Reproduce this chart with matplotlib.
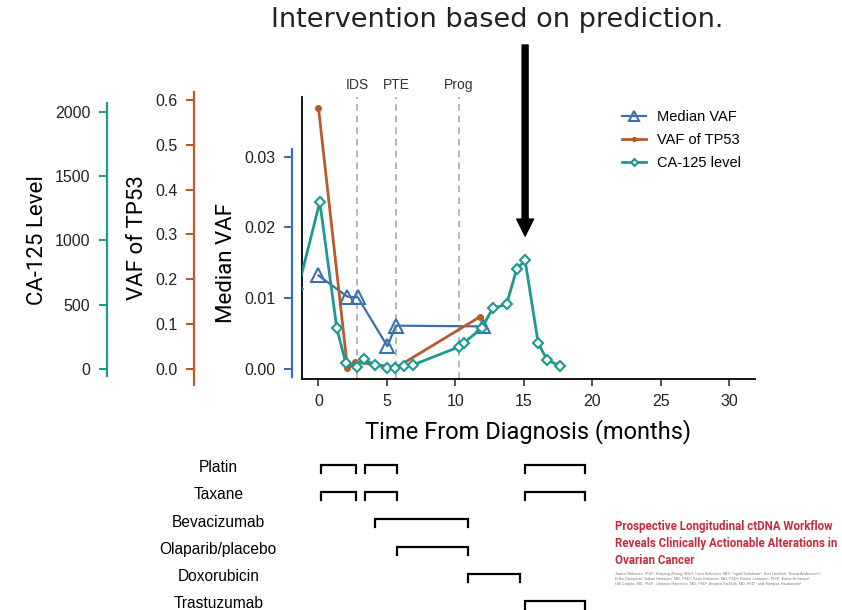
import matplotlib.pyplot as plt

plt.rcParams['font.family'] = ['Liberation Sans', 'DejaVu Sans']
NARROW = ['Roboto', 'DejaVu Sans']

# Median VAF (blue triangles)
med_t = [0.0, 2.12, 2.88, 5.04, 5.65, 12.0]
med_vaf = [0.0132, 0.0102, 0.0101, 0.0032, 0.0061, 0.0060]

# VAF of TP53 (orange dots)
tp53_t = [0.0, 2.12, 2.7, 5.7, 11.8]
tp53_vaf = [0.583, 0.002, 0.015, 0.003, 0.116]

# CA-125 level (teal diamonds)
ca_t = [-1.5, 0.1, 1.34, 2.0, 2.8, 3.33, 4.14, 5.0, 5.6, 6.27, 6.9,
        10.3, 10.63, 11.93, 12.73, 13.75, 14.48, 15.1, 16.05, 16.7, 17.65]
ca_level = [620, 1300, 315, 43, 16, 74, 30, 9, 9, 22, 30,
            172, 203, 315, 471, 502, 776, 845, 203, 69, 24]

# clinical events
events = ['IDS', 'PTE', 'Prog']
event_t = [2.82, 5.7, 10.27]

# treatment periods (months)
drugs = ['Platin', 'Taxane', 'Bevacizumab', 'Olaparib/placebo', 'Doxorubicin', 'Trastuzumab']
drug_periods = [
    [(0.2, 2.75), (3.4, 5.75), (15.1, 19.5)],
    [(0.2, 2.75), (3.4, 5.75), (15.1, 19.5)],
    [(4.1, 10.9)],
    [(5.75, 10.9)],
    [(10.9, 14.7)],
    [(15.1, 19.5)],
]

blue = '#3d6fae'
orange = '#b85a2a'
teal = '#1c9a91'

fig = plt.figure(figsize=(8.42, 6.10), dpi=100, facecolor='white')

# main panel
ax = fig.add_axes([0.3587, 0.3787, 0.538, 0.4623])
ax.set_xlim(-1.2, 31.9)
ax.set_ylim(-0.00144, 0.03844)
ax.set_yticks([])
ax.set_xticks(range(0, 31, 5))
ax.tick_params(axis='x', length=5, width=1.3, colors='#444444', labelcolor='#222222',
               labelsize=11.5, pad=6)
ax.set_xlabel('Time From Diagnosis (months)', fontsize=17, family=NARROW, labelpad=7)
ax.spines['top'].set_visible(False)
ax.spines['right'].set_visible(False)
ax.spines['left'].set_linewidth(1.3)
ax.spines['bottom'].set_linewidth(1.3)

for name, t in zip(events, event_t):
    ax.axvline(t, color='#aaaaaa', linestyle=(0, (4, 3)), linewidth=1.2, zorder=1)
    ax.text(t, 1.043, name, transform=ax.get_xaxis_transform(), ha='center', va='center',
            fontsize=10, color='#333333')


def add_scale(color, ylim, bounds, outward_px, ticks, fmt, label, label_y):
    tw = ax.twinx()
    tw.set_ylim(*ylim)
    for s in ['top', 'right', 'bottom']:
        tw.spines[s].set_visible(False)
    sp = tw.spines['left']
    sp.set_visible(True)
    sp.set_position(('outward', outward_px * 0.72))
    sp.set_bounds(*bounds)
    sp.set_color(color)
    sp.set_linewidth(1.6)
    tw.yaxis.set_ticks_position('left')
    tw.yaxis.set_label_position('left')
    tw.set_yticks(ticks)
    tw.set_yticklabels([fmt.format(v) for v in ticks])
    tw.tick_params(axis='y', colors=color, labelcolor='#222222', length=6, width=1.5,
                   labelsize=11.5, pad=6)
    tw.set_ylabel(label, fontsize=16, family=NARROW, y=label_y, labelpad=5)
    return tw


ax_med = add_scale(blue, (-0.00144, 0.03844), (-0.0011, 0.0311), 10,
                   [0, 0.01, 0.02, 0.03], '{:.2f}', 'Median VAF', 0.411)
ax_tp = add_scale(orange, (-0.0228, 0.6067), (-0.036, 0.6185), 108,
                  [0, 0.1, 0.2, 0.3, 0.4, 0.5, 0.6], '{:.1f}', 'VAF of TP53', 0.5)
ax_ca = add_scale(teal, (-79.4, 2116.8), (-56, 2068), 195,
                  [0, 500, 1000, 1500, 2000], '{:d}', 'CA-125 Level', 0.493)

h1, = ax_med.plot(med_t, med_vaf, color=blue, linewidth=1.6, marker='^', markersize=10,
                  markerfacecolor='none', markeredgewidth=1.5, label='Median VAF')
h2, = ax_tp.plot(tp53_t, tp53_vaf, color=orange, linewidth=2, marker='o', markersize=4,
                 label='VAF of TP53')
h3, = ax_ca.plot(ca_t, ca_level, color=teal, linewidth=2, marker='D', markersize=5,
                 markerfacecolor='white', markeredgewidth=1.5, label='CA-125 level')

ax_ca.legend([h1, h2, h3], ['Median VAF', 'VAF of TP53', 'CA-125 level'],
             loc='upper left', bbox_to_anchor=(615 / 842, 1 - 103 / 610),
             bbox_transform=fig.transFigure, frameon=False, fontsize=10.5,
             handlelength=1.6, handletextpad=0.8, labelspacing=0.6, borderpad=0,
             markerscale=0.7)

# intervention arrow pointing at the CA-125 recurrence peak
late = [(lvl, t) for t, lvl in zip(ca_t, ca_level) if t > 10]
peak_t = max(late)[1]
ax_ca.annotate('', xy=(peak_t, 610 - 236), xycoords=('data', 'figure pixels'),
               xytext=(peak_t, 610 - 45), textcoords=('data', 'figure pixels'),
               arrowprops=dict(arrowstyle='simple,head_length=1.22,head_width=1.22,tail_width=0.43',
                               color='black', shrinkA=0, shrinkB=0, mutation_scale=10))
fig.text(497 / 842, 1 - 20 / 610, 'Intervention based on prediction.', ha='center', va='center',
         fontsize=19.5, family='DejaVu Sans', color='#222222')

# treatment panel
tax = fig.add_axes([0.3587, 0, 0.538, 158 / 610])
tax.set_xlim(-1.2, 31.9)
tax.set_ylim(5.33, -0.48)
tax.axis('off')
for i, (drug, periods) in enumerate(zip(drugs, drug_periods)):
    for s, e in periods:
        tax.plot([s, s, e, e], [i + 0.29, i, i, i + 0.29], color='black', linewidth=1.6,
                 solid_joinstyle='miter')
    tax.text(-7.32, i + 0.1, drug, ha='center', va='center', fontsize=11.2, clip_on=False)

# paper header thumbnail
fig.text(615 / 842, 1 - 520 / 610,
         'Prospective Longitudinal ctDNA Workflow\nReveals Clinically Actionable Alterations in\nOvarian Cancer',
         ha='left', va='top', fontsize=8.3, fontweight='bold', family=NARROW, color='#c42c3f',
         linespacing=1.4)
fig.text(615 / 842, 1 - 572 / 610,
         'Jaana Oikkonen, PhD\u00b9; Kaiyang Zhang, MSc\u00b9; Liina Salminen, MD\u00b2; Ingrid Schulman\u00b3; Kari Lavikka\u00b9; Noora Andersson\u00b9;\n'
         'Erika Ojanper\u00e4\u00b9; Sakari Hietanen, MD, PhD\u00b2; Seija Gr\u00e9nman, MD, PhD\u00b2; Rainer Lehtonen, PhD\u00b9; Kaisa Huhtinen\u00b3;\n'
         'Olli Carp\u00e9n, MD, PhD\u00b3; Johanna Hynninen, MD, PhD\u00b2; Anniina F\u00e4rkkil\u00e4, MD, PhD\u00b9; and Sampsa Hautaniemi\u00b9',
         ha='left', va='top', fontsize=2.8, color='#777777', linespacing=1.4)

fig.savefig('out.png', dpi=100, facecolor='white')
